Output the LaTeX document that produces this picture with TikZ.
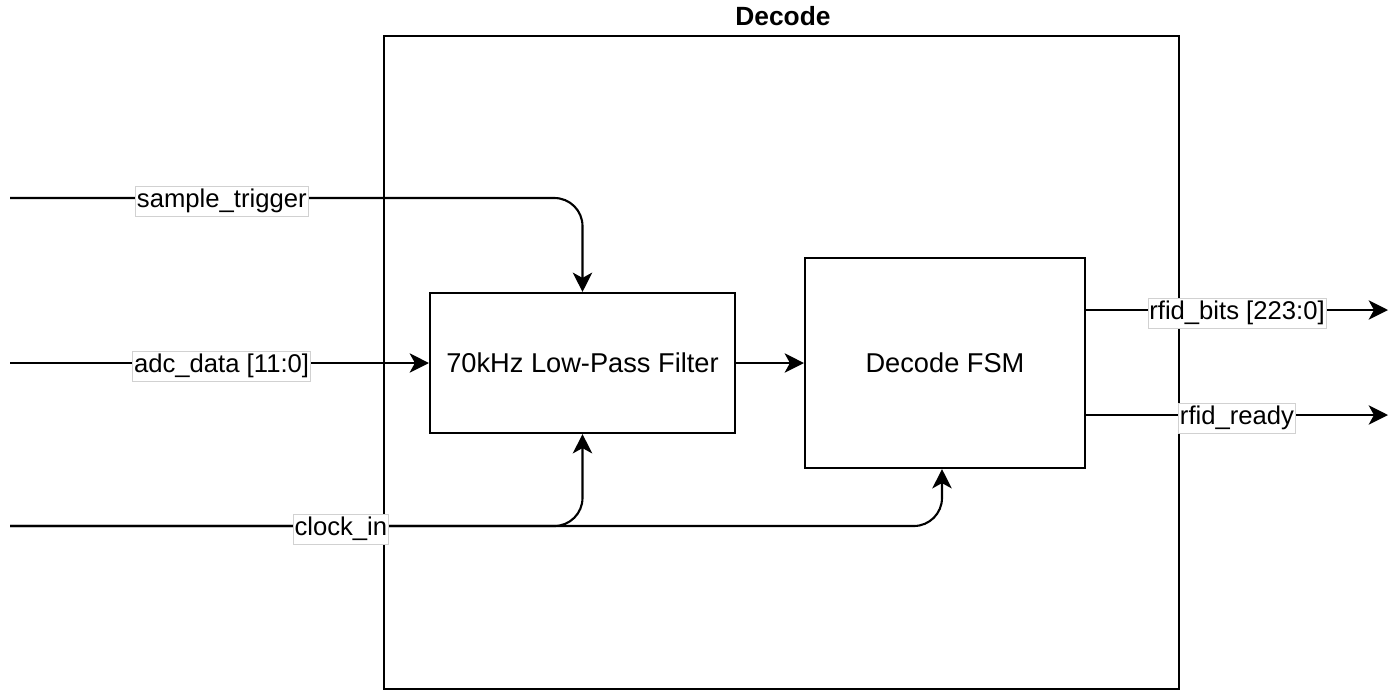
\documentclass[tikz,border=0pt]{standalone}
\usepackage{fontspec}
\setmainfont{Liberation Sans}
\usetikzlibrary{arrows.meta}
\tikzset{
  blk/.style={draw, line width=1.2pt, inner sep=0pt, font=\fontsize{15.5}{18}\selectfont},
  sig/.style={line width=1.2pt, -{Stealth[length=11pt, width=11pt, inset=3pt]}},
  lbl/.style={fill=white, draw=black!18, line width=0.4pt, sharp corners, inner xsep=0.8pt, inner ysep=1pt,
    yshift=-0.07cm, text height=11pt, text depth=4pt, font=\fontsize{14.6}{17}\selectfont},
}
\begin{document}
\begin{tikzpicture}[x=0.02cm, y=-0.02cm]
\useasboundingbox (0,0) rectangle (1389,691);
% blocks
\node[blk, minimum width=15.9cm, minimum height=13.06cm] (decode) at (781.5,362.5) {};
\node[font=\bfseries\fontsize{15}{18}\selectfont] (title) at (783,16) {Decode};
\node[blk, minimum width=6.1cm, minimum height=2.8cm] (lpf) at (582.5,363) {70kHz Low-Pass Filter};
\node[blk, minimum width=5.6cm, minimum height=4.2cm] (fsm) at (945,363) {Decode FSM};
% inputs
\coordinate (trig) at (10,198);
\coordinate (adc) at (10,363);
\coordinate (clk) at (10,526);
\draw[sig, rounded corners=16] (trig) -- node[lbl, pos=0.37] {sample\_trigger} (lpf.north |- trig) -- (lpf.north);
\draw[sig] (adc) -- node[lbl, pos=0.505] {adc\_data [11:0]} (lpf.west);
\draw[sig, rounded corners=16] (clk) -- (lpf.south |- clk) -- (lpf.south);
\draw[sig, rounded corners=16] (clk) -- node[lbl, pos=0.355] {clock\_in} ([xshift=-0.06cm]fsm.south |- clk) -- ([xshift=-0.06cm]fsm.south);
\draw[sig] (lpf.east) -- (fsm.west);
% outputs
\coordinate (bits) at (1388,310);
\coordinate (ready) at (1388,415);
\draw[sig] (fsm.east |- bits) -- node[lbl, pos=0.5] {rfid\_bits [223:0]} (bits);
\draw[sig] (fsm.east |- ready) -- node[lbl, pos=0.5] {rfid\_ready} (ready);
\end{tikzpicture}
\end{document}
